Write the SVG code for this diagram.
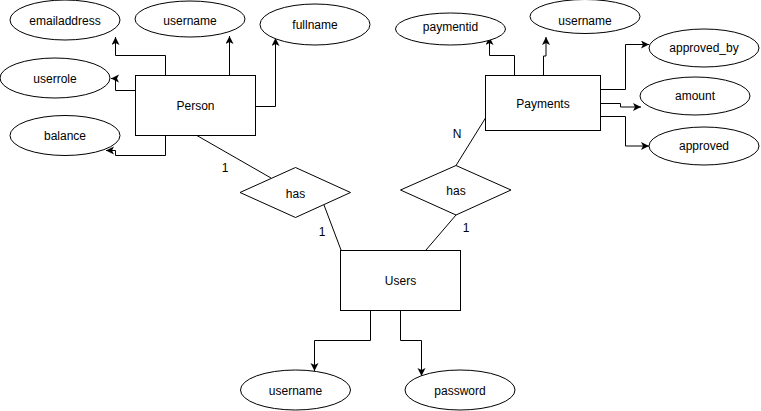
<svg xmlns="http://www.w3.org/2000/svg" width="761" height="411" viewBox="0 0 761 411">
<style>
  .shape { fill: #ffffff; stroke: #000000; stroke-width: 1; }
  .lbl { font-family: "Liberation Sans", Arial, Helvetica, sans-serif; font-size: 12px; fill: #000000; text-anchor: middle; }
  .edge { fill: none; stroke: #000000; stroke-width: 1; }
  .arr { marker-end: url(#arrow); }
</style>
<defs>
  <marker id="arrow" markerUnits="userSpaceOnUse" markerWidth="9" markerHeight="9" refX="8" refY="4" orient="auto">
    <path d="M0,0 L8,4 L0,8 L2,4 Z" fill="#000000" stroke="none"/>
  </marker>
</defs>
<rect width="761" height="411" fill="#ffffff"/>

<g id="connectors">
  <path class="edge arr" d="M165.5,75 V55.5 H115.5 V37"/>
  <path class="edge arr" d="M229.5,75 V36"/>
  <path class="edge arr" d="M256,106.5 H275.5 V38"/>
  <path class="edge arr" d="M135,90.5 H115.5 V78.5 H111"/>
  <path class="edge arr" d="M165.5,135 V155.5 H115.5 V150.5 H106"/>
  <path class="edge arr" d="M514.5,75 V55.5 H489.5 V37"/>
  <path class="edge arr" d="M543.5,75 V56 H546 V37"/>
  <path class="edge arr" d="M601,89.5 H625.5 V44.5 H649"/>
  <path class="edge arr" d="M601,103.5 H620.5 V107 H641"/>
  <path class="edge arr" d="M601,116.5 H625.5 V146 H649"/>
  <path class="edge arr" d="M370.5,310 V340.5 H314.5 V371"/>
  <path class="edge arr" d="M400.5,310 V340.5 H421.5 V376"/>
  <path class="edge" d="M196,135 L271,178"/>
  <path class="edge" d="M324,205 L341,250"/>
  <path class="edge" d="M485.5,118 L456,165.5"/>
  <path class="edge" d="M456,215 L426,250"/>
  <text class="lbl" x="225" y="172">1</text>
  <text class="lbl" x="322" y="236">1</text>
  <text class="lbl" x="457" y="138">N</text>
  <text class="lbl" x="466" y="232">1</text>
</g>

<g id="person">
  <rect class="shape" x="135.5" y="75.5" width="120" height="60"/>
  <text class="lbl" x="195.5" y="110">Person</text>
</g>
<g id="person-emailaddress">
  <ellipse class="shape" cx="65" cy="20" rx="55" ry="20"/>
  <text class="lbl" x="65" y="25">emailaddress</text>
</g>
<g id="person-username">
  <ellipse class="shape" cx="190" cy="19" rx="55" ry="18"/>
  <text class="lbl" x="190" y="25">username</text>
</g>
<g id="person-fullname">
  <ellipse class="shape" cx="315" cy="24.5" rx="55" ry="20.5"/>
  <text class="lbl" x="315" y="28.5">fullname</text>
</g>
<g id="person-userrole">
  <ellipse class="shape" cx="55" cy="78" rx="55" ry="20"/>
  <text class="lbl" x="55" y="83">userrole</text>
</g>
<g id="person-balance">
  <ellipse class="shape" cx="65" cy="135.5" rx="55" ry="20"/>
  <text class="lbl" x="65" y="140">balance</text>
</g>

<g id="payments">
  <rect class="shape" x="485.5" y="75.5" width="115" height="55"/>
  <text class="lbl" x="543" y="107.5">Payments</text>
</g>
<g id="payments-paymentid">
  <ellipse class="shape" cx="450.5" cy="29" rx="55" ry="16"/>
  <text class="lbl" x="450.5" y="30.5">paymentid</text>
</g>
<g id="payments-username">
  <ellipse class="shape" cx="585" cy="16.5" rx="55" ry="17"/>
  <text class="lbl" x="585" y="25">username</text>
</g>
<g id="payments-approved_by">
  <ellipse class="shape" cx="704" cy="48" rx="55" ry="19"/>
  <text class="lbl" x="704" y="52">approved_by</text>
</g>
<g id="payments-amount">
  <ellipse class="shape" cx="695" cy="96" rx="55" ry="19"/>
  <text class="lbl" x="695" y="100">amount</text>
</g>
<g id="payments-approved">
  <ellipse class="shape" cx="704" cy="146" rx="55" ry="19"/>
  <text class="lbl" x="704" y="150">approved</text>
</g>

<g id="has-person-users">
  <polygon class="shape" points="240,192.5 295.5,167.5 350.5,192.5 295.5,217.5"/>
  <text class="lbl" x="295.5" y="198">has</text>
</g>
<g id="has-payments-users">
  <polygon class="shape" points="400.5,190 456,165.5 511,190 456,215"/>
  <text class="lbl" x="456" y="194.5">has</text>
</g>

<g id="users">
  <rect class="shape" x="340.5" y="250.5" width="120" height="60"/>
  <text class="lbl" x="400.5" y="285">Users</text>
</g>
<g id="users-username">
  <ellipse class="shape" cx="295.5" cy="390" rx="55" ry="20"/>
  <text class="lbl" x="295.5" y="394.5">username</text>
</g>
<g id="users-password">
  <ellipse class="shape" cx="460" cy="390" rx="55" ry="20"/>
  <text class="lbl" x="460" y="394.5">password</text>
</g>
</svg>
